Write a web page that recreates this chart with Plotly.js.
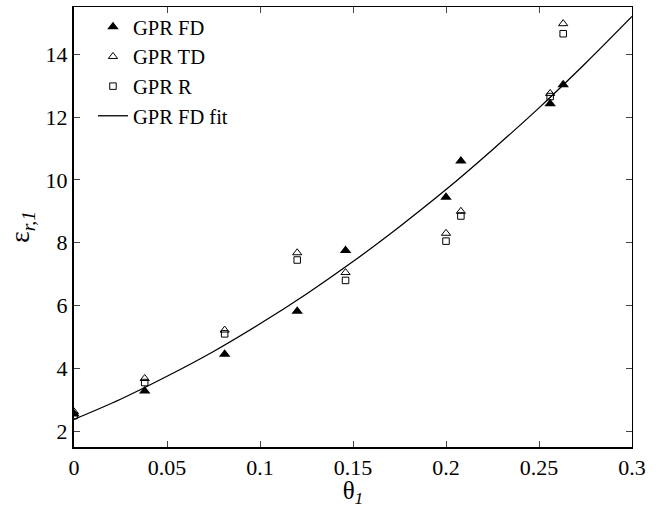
<!DOCTYPE html>
<html>
<head>
<meta charset="utf-8">
<script src="https://cdn.plot.ly/plotly-3.0.1.min.js"></script>
<style>html,body{margin:0;padding:0;background:#fff}#chart{width:658px;height:508px}</style>
</head>
<body>
<div id="chart"></div>
<script>
// Data
const theta = [0, 0.038, 0.081, 0.12, 0.146, 0.2, 0.208, 0.256, 0.263];
const gprFD = [2.55, 3.28, 4.45, 5.82, 7.75, 9.45, 10.6, 12.42, 13.03];
const gprTD = [2.62, 3.68, 5.22, 7.68, 7.05, 8.3, 9.0, 12.75, 14.97];
const gprR  = [2.5, 3.55, 5.1, 7.45, 6.8, 8.05, 8.85, 12.65, 14.65];
const fitTheta = [0, 0.025, 0.05, 0.075, 0.1, 0.125, 0.15, 0.175, 0.2, 0.225, 0.25, 0.275, 0.3];
const fitEps   = [2.38, 3.02, 3.75, 4.54, 5.42, 6.37, 7.40, 8.51, 9.69, 10.96, 12.29, 13.71, 15.2];
const legendNames = ["GPR FD", "GPR TD", "GPR R", "GPR FD fit"];

const font = "Liberation Serif, Times New Roman, serif";

const traces = [
  {x: theta, y: gprFD, name: legendNames[0], mode: "markers", type: "scatter",
   marker: {symbol: "triangle-up", size: 10, color: "#000"}},
  {x: theta, y: gprTD, name: legendNames[1], mode: "markers", type: "scatter",
   marker: {symbol: "triangle-up-open", size: 8, color: "#000", line: {width: 1, color: "#000"}}},
  {x: theta, y: gprR, name: legendNames[2], mode: "markers", type: "scatter",
   marker: {symbol: "square-open", size: 6.5, color: "#000", line: {width: 1, color: "#000"}}},
  {x: fitTheta, y: fitEps, name: legendNames[3], mode: "lines", type: "scatter",
   line: {color: "#000", width: 1.3, shape: "spline"}}
];

const layout = {
  width: 658, height: 508,
  margin: {l: 74, r: 26, t: 7, b: 61},
  paper_bgcolor: "#fff", plot_bgcolor: "#fff",
  font: {family: font, size: 22, color: "#000"},
  showlegend: true,
  legend: {x: 0.034, y: 1.0, xanchor: "left", yanchor: "top", bgcolor: "rgba(0,0,0,0)",
           font: {family: font, size: 20.5, color: "#000"}, tracegroupgap: 0},
  xaxis: {range: [0, 0.3], dtick: 0.05, tick0: 0, ticks: "inside", ticklen: 6, tickwidth: 1,
          showline: true, linewidth: 2, linecolor: "#000", showgrid: false, zeroline: false,
          tickfont: {family: font, size: 22, color: "#000"},
          title: {text: "θ<sub><i>1</i></sub>", font: {family: font, size: 25, color: "#000"}, standoff: 4}},
  yaxis: {range: [1.5, 15.5], dtick: 2, tick0: 0, ticks: "inside", ticklen: 6, tickwidth: 1,
          showline: true, linewidth: 2, linecolor: "#000", showgrid: false, zeroline: false,
          tickfont: {family: font, size: 22, color: "#000"},
          title: {text: "ε<sub><i>r,1</i></sub>", font: {family: font, size: 28, color: "#000"}, standoff: 8}},
  xaxis2: {range: [0, 0.3], dtick: 0.05, tick0: 0, overlaying: "x", side: "top", ticks: "inside",
           ticklen: 6, showticklabels: false, showline: true, linewidth: 1, linecolor: "#000",
           showgrid: false, zeroline: false},
  yaxis2: {range: [1.5, 15.5], dtick: 2, tick0: 0, overlaying: "y", side: "right", ticks: "inside",
           ticklen: 6, showticklabels: false, showline: true, linewidth: 1, linecolor: "#000",
           showgrid: false, zeroline: false}
};

// invisible helper trace so the mirrored (top/right) axes are drawn
traces.push({x: [0], y: [1.5], xaxis: "x2", yaxis: "y2", mode: "markers", type: "scatter",
             showlegend: false, hoverinfo: "skip", marker: {opacity: 0}});

Plotly.newPlot("chart", traces, layout, {staticPlot: true});
</script>
</body>
</html>
